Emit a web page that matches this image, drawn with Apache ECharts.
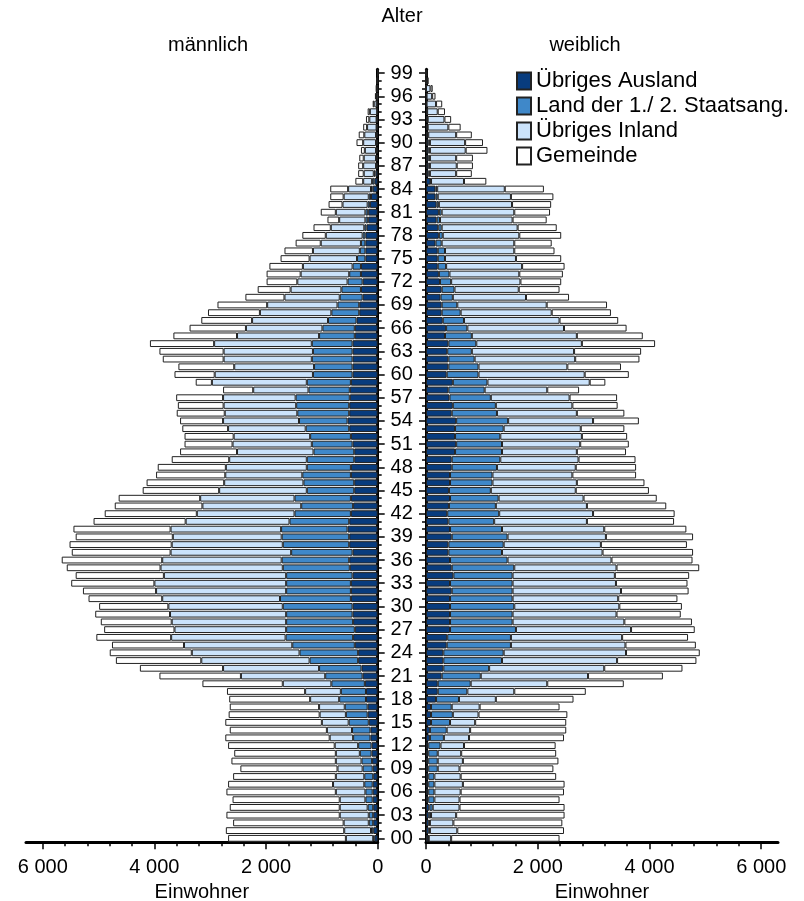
<!DOCTYPE html>
<html>
<head>
<meta charset="utf-8">
<title>Alterspyramide</title>
<script src="https://cdn.jsdelivr.net/npm/echarts@6/dist/echarts.min.js"></script>
<style>
  html, body { margin: 0; padding: 0; background: #fff; }
  #chart { width: 804px; height: 901px; }
</style>
</head>
<body>
<div id="chart"></div>
<script>
// age categories 00..99
const ages = Array.from({ length: 100 }, (_, i) => String(i).padStart(2, '0'));
const seriesNames = ['Übriges Ausland', 'Land der 1./ 2. Staatsang.', 'Übriges Inland', 'Gemeinde'];
const tickValues = [0, 2000, 4000, 6000];

// männlich, index = age
const maleAusland = [60,80,80,80,80,90,90,90,80,90, 100,110,110,130,130,160,180,180,210,210,
  230,270,290,350,350,410,440,410,440,450, 450,480,480,480,450,500,510,450,510,510,
  540,510,480,440,480,420,420,480,480,420, 420,450,480,510,540,510,510,500,500,480,
  450,450,450,450,450,410,410,380,330,330, 270,300,270,300,300,220,220,220,220,200,
  170,170,140,120,90,60,40,20,20,20, 20,20,10,10,10,10,0,0,0,0];
const maleLand = [20,40,80,80,100,130,130,150,160,180, 190,210,240,310,330,360,390,410,480,450,
  600,670,760,870,1050,1120,1210,1230,1200,1190, 1250,1270,1160,1160,1190,1200,1210,1100,1190,1210,
  1190,1070,1010,930,1010,850,910,870,790,850, 730,730,730,780,870,930,950,970,740,790,
  710,690,730,710,730,640,580,510,500,390, 410,350,270,210,150,150,100,80,50,40,
  50,50,40,40,30,40,30,10,10,10, 10,10,10,10,0,0,0,0,0,0];
const maleInland = [490,480,450,520,500,460,530,560,510,450, 460,430,420,420,450,480,470,460,520,640,
  870,1510,1720,1940,1930,1940,2050,2000,2050,2080, 2050,2110,2330,2360,2190,2190,2140,2160,1990,1950,
  1980,1860,1750,1770,1690,1570,1420,1380,1450,1390, 1370,1420,1370,1390,1360,1300,1300,1300,990,1700,
  1760,1430,1580,1600,1750,1470,1370,1360,1280,1260, 990,910,900,870,890,850,840,720,660,600,
  470,530,450,450,410,160,180,230,220,200, 230,210,170,130,130,50,30,20,10,0];
const maleGemeinde = [2110,2120,1980,2030,1970,1920,1960,1880,1840,1740, 1870,1820,1910,1870,1740,1730,1630,1600,1450,1400,
  1440,1460,1490,1530,1470,1290,1340,1260,1270,1340, 1240,1320,1310,1490,1580,1680,1800,1770,1830,1740,
  1740,1650,1650,1570,1460,1370,1390,1240,1220,1030, 1020,860,880,820,770,860,820,840,540,290,
  720,1000,1090,1150,1150,1140,1010,910,930,890, 700,590,550,610,600,520,510,450,420,310,
  210,270,250,240,320,140,100,90,80,70, 120,100,70,60,40,30,20,10,10,0];

// weiblich, index = age
const femaleAusland = [40,50,50,50,60,40,40,40,40,40, 40,40,40,70,70,90,90,90,180,210,
  210,280,310,310,310,370,380,430,430,430, 430,430,460,430,490,460,430,400,400,460,
  430,400,380,410,430,410,430,430,460,460, 520,540,520,520,540,460,480,420,400,480,
  370,400,400,380,400,340,360,300,280,280, 260,280,250,230,210,210,210,170,230,220,
  190,230,190,170,170,80,40,40,40,40, 40,30,20,20,20,10,10,0,0,0];
const femaleLand = [10,20,20,40,60,110,110,110,110,170, 170,170,220,250,300,340,390,370,410,530,
  590,700,820,1050,1080,1150,1140,1180,1120,1120, 1150,1120,1090,1120,1060,1120,1030,960,990,1000,
  930,820,930,840,870,750,760,760,810,870, 840,820,810,870,930,810,770,740,650,620,
  570,540,470,440,500,480,380,380,340,280, 220,230,200,190,150,130,130,110,70,60,
  60,50,40,40,30,10,30,30,30,30, 30,10,10,10,0,0,0,0,0,0];
const femaleInland = [400,490,420,450,480,450,470,510,470,390, 450,420,420,450,420,450,460,500,660,840,
  1370,1920,2060,2060,2190,2050,1990,2060,2000,1860, 1880,1890,1940,1850,1830,1830,1860,1800,1740,1760,
  1830,1660,1680,1630,1520,1520,1510,1430,1410,1400, 1340,1400,1460,1380,1520,1430,1370,1410,1120,1830,
  1900,1590,1800,1830,1890,1880,1730,1710,1630,1600, 1310,1150,1240,1250,1360,1270,1240,1300,1370,1360,
  1300,1300,1310,1310,1210,590,470,480,470,640, 630,500,370,300,190,170,100,80,30,10];
const femaleGemeinde = [1940,1910,1950,1940,1880,1790,1850,1820,1710,1680, 1710,1700,1640,1700,1720,1630,1590,1430,1390,1280,
  1370,1340,1400,1420,1320,1260,1180,1140,1210,1150, 1120,1060,1210,1280,1330,1480,1450,1620,1540,1560,
  1470,1560,1460,1420,1310,1310,1210,1140,1080,1020, 880,870,810,780,820,850,810,850,570,280,
  790,960,1150,1200,1310,1180,1120,1050,1060,1080, 770,730,730,780,760,810,720,670,750,700,
  610,640,700,760,700,400,280,290,300,390, 320,280,220,120,130,110,60,40,10,10];

const colors = ['#083C7E', '#3F88C9', '#CBE3FB', '#FFFFFF'];
const font = 'Liberation Sans, Arial, sans-serif';

const chart = echarts.init(document.getElementById('chart'), null, { renderer: 'canvas' });

function fmt(v) {
  return v === 0 ? '0' : (v / 1000) + ' 000';
}

function valueAxis(gridIndex, inverse) {
  return {
    type: 'value',
    gridIndex,
    inverse,
    position: 'bottom',
    min: 0,
    max: 6300,
    interval: 2000,
    name: 'Einwohner',
    nameLocation: 'middle',
    nameGap: 39,
    nameTextStyle: { fontFamily: font, fontSize: 20, color: '#000' },
    axisLine: { show: true, lineStyle: { color: '#000', width: 3 } },
    axisTick: { show: true, length: 7, customValues: tickValues, lineStyle: { color: '#000', width: 1.5 } },
    axisLabel: {
      fontFamily: font, fontSize: 20, color: '#000', margin: 15,
      customValues: tickValues, formatter: fmt
    },
    splitLine: { show: false }
  };
}

function minorAxis(gridIndex, inverse) {
  const minor = [];
  for (let v = 400; v < 6300; v += 400) if (v % 2000 !== 0) minor.push(v);
  return {
    type: 'value',
    gridIndex,
    inverse,
    position: 'bottom',
    min: 0,
    max: 6300,
    axisLine: { show: false },
    axisTick: { show: true, length: 4, customValues: minor, lineStyle: { color: '#000', width: 1.5 } },
    axisLabel: { show: false },
    splitLine: { show: false }
  };
}

function ageAxis(gridIndex, position, withLabels) {
  return {
    type: 'category',
    gridIndex,
    position,
    data: ages,
    axisLine: { show: true, lineStyle: { color: '#000', width: 3 } },
    axisTick: { show: true, interval: 0, alignWithLabel: true, length: 4, lineStyle: { color: '#000', width: 1.5 } },
    axisLabel: withLabels ? {
      show: true, interval: 2, align: 'center', margin: 24,
      fontFamily: font, fontSize: 20, color: '#000'
    } : { show: false },
    splitLine: { show: false }
  };
}

function majorAgeTicks(gridIndex, position) {
  return {
    type: 'category',
    gridIndex,
    position,
    data: ages,
    axisLine: { show: false },
    axisTick: { show: true, interval: 2, alignWithLabel: true, length: 7, lineStyle: { color: '#000', width: 1.5 } },
    axisLabel: { show: false },
    splitLine: { show: false }
  };
}

const maleData = [maleAusland, maleLand, maleInland, maleGemeinde];
const femaleData = [femaleAusland, femaleLand, femaleInland, femaleGemeinde];

const series = [];
maleData.forEach((d, i) => {
  series.push({
    name: seriesNames[i], type: 'bar', stack: 'm',
    xAxisIndex: 0, yAxisIndex: 0, data: d,
    barCategoryGap: '12%',
    itemStyle: { color: colors[i], borderColor: '#222', borderWidth: 1 },
    emphasis: { disabled: true }
  });
});
femaleData.forEach((d, i) => {
  series.push({
    name: seriesNames[i], type: 'bar', stack: 'f',
    xAxisIndex: 2, yAxisIndex: 2, data: d,
    barCategoryGap: '12%',
    itemStyle: { color: colors[i], borderColor: '#222', borderWidth: 1 },
    emphasis: { disabled: true }
  });
});

const option = {
  animation: false,
  backgroundColor: '#fff',
  textStyle: { fontFamily: font },
  grid: [
    { left: 26, top: 69.2, width: 351.7, height: 773, outerBoundsMode: 'none' },
    { left: 426, top: 69.2, width: 352, height: 773, outerBoundsMode: 'none' }
  ],
  xAxis: [
    valueAxis(0, true),
    minorAxis(0, true),
    valueAxis(1, false),
    minorAxis(1, false)
  ],
  yAxis: [
    ageAxis(0, 'right', true),
    majorAgeTicks(0, 'right'),
    ageAxis(1, 'left', false),
    majorAgeTicks(1, 'left')
  ],
  legend: {
    data: seriesNames,
    orient: 'vertical',
    left: 511,
    top: 65,
    icon: 'rect',
    itemWidth: 14,
    itemHeight: 17,
    itemGap: 3,
    selectedMode: false,
    textStyle: { fontFamily: font, fontSize: 22, color: '#000' }
  },
  graphic: [
    { type: 'text', left: 'center', top: 6, style: { text: 'Alter', font: '20px ' + font, fill: '#000' } },
    { type: 'text', x: 208, y: 45, style: { text: 'männlich', font: '20px ' + font, fill: '#000', align: 'center', verticalAlign: 'middle' } },
    { type: 'text', x: 585, y: 45, style: { text: 'weiblich', font: '20px ' + font, fill: '#000', align: 'center', verticalAlign: 'middle' } }
  ],
  series
};

chart.setOption(option);
</script>
</body>
</html>
